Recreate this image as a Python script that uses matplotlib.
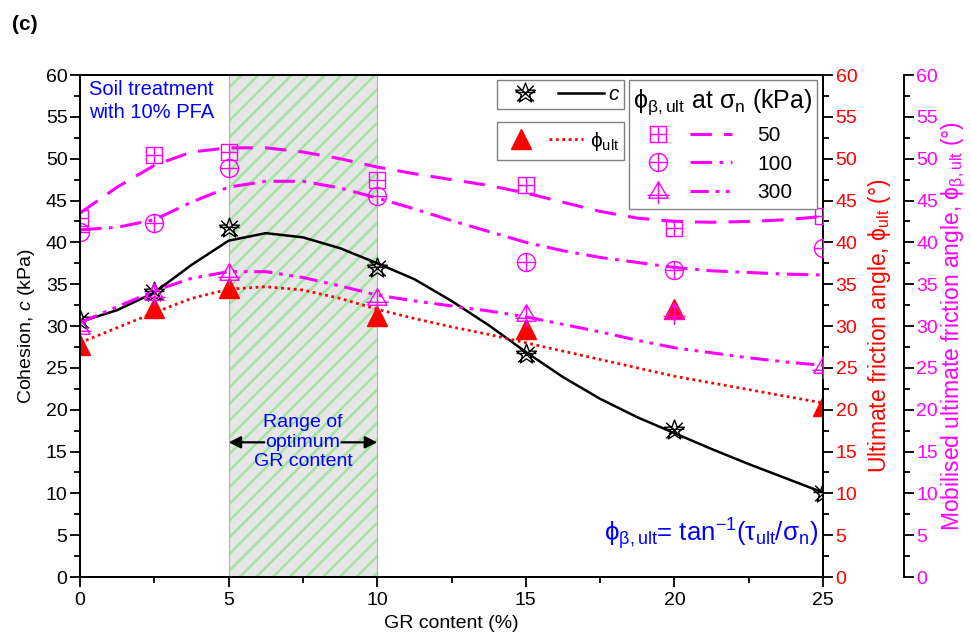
import numpy as np
import matplotlib
matplotlib.use('Agg')
import matplotlib.pyplot as plt
from matplotlib.path import Path
from matplotlib.lines import Line2D
from matplotlib.legend_handler import HandlerTuple
from matplotlib.ticker import MultipleLocator

plt.rcParams['font.family'] = 'Liberation Sans'
plt.rcParams['mathtext.fontset'] = 'custom'
plt.rcParams['mathtext.rm'] = 'Liberation Sans'
plt.rcParams['mathtext.it'] = 'Liberation Sans:italic'
plt.rcParams['mathtext.bf'] = 'Liberation Sans:bold'
plt.rcParams['mathtext.default'] = 'regular'
plt.rcParams['hatch.linewidth'] = 1.8

# measured values
gr = [0, 2.5, 5, 10, 15, 20, 25]
cohesion = [30.7, 34.1, 41.7, 36.9, 26.7, 17.6, 10.0]
phi_ult = [27.7, 32.1, 34.5, 31.2, 29.7, 32.0, 20.5]
phi_b50 = [42.9, 50.4, 50.8, 47.5, 46.8, 41.7, 43.2]
phi_b100 = [41.2, 42.3, 48.9, 45.5, 37.6, 36.7, 39.3]
phi_b300 = [29.9, 34.0, 36.3, 33.3, 31.4, 31.7, 25.2]

# trend curves, every 1.25 %
gr_fit = [0, 1.25, 2.5, 3.75, 5, 6.25, 7.5, 8.75, 10, 11.25, 12.5,
          13.75, 15, 16.25, 17.5, 18.75, 20, 21.25, 22.5, 23.75, 25]
cohesion_fit = [30.5, 31.9, 34.0, 37.3, 40.2, 41.1, 40.6, 39.3, 37.5, 35.6, 33.0,
                30.1, 26.9, 23.9, 21.3, 19.1, 17.2, 15.3, 13.5, 11.8, 10.1]
phi_ult_fit = [28.0, 29.8, 31.6, 33.3, 34.4, 34.7, 34.3, 33.3, 32.0, 30.9, 29.9,
               29.0, 28.0, 27.0, 26.0, 25.0, 24.0, 23.2, 22.4, 21.6, 20.8]
phi_b50_fit = [43.5, 46.6, 49.2, 50.8, 51.3, 51.3, 50.8, 50.0, 49.0, 48.2, 47.5,
               46.8, 45.9, 44.8, 43.7, 42.9, 42.5, 42.4, 42.5, 42.7, 43.1]
phi_b100_fit = [41.5, 41.8, 42.7, 44.8, 46.6, 47.3, 47.3, 46.5, 45.3, 44.0, 42.6,
                41.3, 40.0, 39.0, 38.2, 37.6, 37.0, 36.6, 36.4, 36.2, 36.1]
phi_b300_fit = [30.4, 32.3, 34.2, 35.7, 36.5, 36.5, 35.8, 34.8, 33.7, 33.0, 32.4,
                31.8, 31.1, 30.2, 29.3, 28.3, 27.4, 26.8, 26.2, 25.7, 25.3]

y_ticks = list(range(0, 61, 5))

MAGENTA = '#ff00ff'
RED = '#ff0000'
BLUE = '#0000ff'


# symbols with a cross inside (Origin style)
def cross_marker(outline, cross):
    parts = [outline]
    for (x0, y0), (x1, y1) in cross:
        parts.append(Path([(x0, y0), (x1, y1)], [Path.MOVETO, Path.LINETO]))
    return Path.make_compound_path(*parts)


sq = Path([(-1, -1), (1, -1), (1, 1), (-1, 1), (-1, -1)], closed=True)
sq_plus = cross_marker(sq, [((-1, 0), (1, 0)), ((0, -1), (0, 1))])
circ_plus = cross_marker(Path.unit_circle(), [((-1, 0), (1, 0)), ((0, -1), (0, 1))])
tri = Path([(0, 1), (-1, -0.7), (1, -0.7), (0, 1)], closed=True)
tri_plus = cross_marker(tri, [((-1.15, -0.4), (1.15, -0.4)), ((0, 1), (0, -1.3))])
ang = np.pi / 2 + np.arange(10) * np.pi / 5
rad = np.where(np.arange(10) % 2 == 0, 1.0, 0.42)
star_pts = list(zip(rad * np.cos(ang), rad * np.sin(ang))) + [(0, 1)]
star = Path(star_pts, closed=True)
star_x = cross_marker(star, [((-0.8, -0.75), (0.8, 0.75)), ((-0.8, 0.75), (0.8, -0.75)),
                             ((-0.95, 0.1), (0.95, 0.1))])

fig, ax = plt.subplots(figsize=(9.71, 6.44), dpi=100)
fig.subplots_adjust(left=0.0824, right=0.8476, bottom=0.104, top=0.8835)
ax2 = ax.twinx()
ax3 = ax.twinx()
ax3.spines['right'].set_position(('outward', 58))

# range of optimum GR content
ax.axvspan(5, 10, facecolor='#e6e6e6', edgecolor='#9fe59f', hatch='//', linewidth=0, zorder=0)
ax.axvspan(5, 10, fill=False, edgecolor='#b0b0b0', linewidth=0.8, zorder=0)

# cohesion
ax.plot(gr_fit, cohesion_fit, color='k', lw=1.8)
ax.plot(gr, cohesion, ls='none', marker=star_x, ms=15, mfc='none', mec='k', mew=1.0)

# ultimate friction angle
ax2.plot(gr_fit, phi_ult_fit, color=RED, lw=2, ls=(0, (1, 1.3)))
ax2.plot(gr, phi_ult, ls='none', marker='^', ms=15, color=RED)

# mobilised friction angle
ls50 = (0, (7, 4))
ls100 = (0, (7, 2.5, 1.2, 2.5))
ls300 = (0, (6, 2.2, 1.2, 2.2, 1.2, 2.2))
ax3.plot(gr_fit, phi_b50_fit, color=MAGENTA, lw=2.2, ls=ls50)
ax3.plot(gr_fit, phi_b100_fit, color=MAGENTA, lw=2.2, ls=ls100)
ax3.plot(gr_fit, phi_b300_fit, color=MAGENTA, lw=2.2, ls=ls300)
ax3.plot(gr, phi_b50, ls='none', marker=sq_plus, ms=12, mfc='none', mec=MAGENTA, mew=1.0)
ax3.plot(gr, phi_b100, ls='none', marker=circ_plus, ms=13, mfc='none', mec=MAGENTA, mew=1.0)
ax3.plot(gr, phi_b300, ls='none', marker=tri_plus, ms=18, mfc='none', mec=MAGENTA, mew=1.0)

# axes styling
ax.set_xlim(0, 25)
ax.xaxis.set_major_locator(MultipleLocator(5))
ax.xaxis.set_minor_locator(MultipleLocator(2.5))
for a in (ax, ax2, ax3):
    a.set_ylim(0, 60)
    a.set_yticks(y_ticks)
    a.yaxis.set_minor_locator(MultipleLocator(2.5))
    a.tick_params(which='major', length=7, width=1.3, labelsize=14, direction='out', pad=2)
    a.tick_params(which='minor', length=4, width=1.3, direction='out')
    for s in a.spines.values():
        s.set_linewidth(1.4)
ax.tick_params(axis='x', which='both', top=False, pad=4)
ax2.tick_params(axis='y', colors='k', labelcolor=RED)
ax3.tick_params(axis='y', colors='k', labelcolor=MAGENTA)

ax.set_xlabel('GR content (%)', fontsize=14, labelpad=4)
ax.set_ylabel(r'Cohesion, $\mathit{c}$ (kPa)', fontsize=14, labelpad=6)
ax2.set_ylabel(r'Ultimate friction angle, $\phi_{ult}$ (°)', fontsize=16.5,
               color=RED, labelpad=6)
ax3.set_ylabel(r'Mobilised ultimate friction angle, $\phi_{\beta,ult}$ (°)',
               fontsize=16.5, color=MAGENTA, labelpad=1)

# annotations
ax.text(0.012, 0.99, 'Soil treatment\nwith 10% PFA', transform=ax.transAxes, color=BLUE,
        fontsize=14.5, ha='left', va='top', linespacing=1.25)
ax.text(7.5, 16.1, 'Range of\noptimum\nGR content', color=BLUE, fontsize=14,
        ha='center', va='center', linespacing=1.2)
arrow = dict(arrowstyle='-|>', color='k', lw=1.6, mutation_scale=18, shrinkA=0, shrinkB=0)
ax.annotate('', xy=(5, 16.1), xytext=(6.2, 16.1), arrowprops=arrow)
ax.annotate('', xy=(10, 16.1), xytext=(8.8, 16.1), arrowprops=arrow)
ax3.text(0.993, 0.085, r'$\phi_{\beta,ult}$= tan$^{-1}$($\tau_{ult}$/$\sigma_{n}$)',
         transform=ax3.transAxes, color=BLUE, fontsize=18.5, ha='right', va='center')
fig.text(0.012, 0.962, '(c)', fontsize=15, fontweight='bold', ha='left', va='center')

# legends
hmap = {tuple: HandlerTuple(ndivide=None, pad=0.5)}
frame = dict(fancybox=False, framealpha=1, edgecolor='#808080', borderaxespad=0,
             fontsize=15, handler_map=hmap, mode='expand')
h_c = (Line2D([], [], ls='none', marker=star_x, ms=15, mfc='none', mec='k', mew=1.0),
       Line2D([], [], color='k', lw=1.8))
leg1 = ax3.legend([h_c], [r'$\mathit{c}$'], loc='upper left',
                  bbox_to_anchor=(0.561, 0.93, 0.171, 0.06),
                  handlelength=4.9, handletextpad=0.2, borderpad=0.25, **frame)
ax3.add_artist(leg1)
h_u = (Line2D([], [], ls='none', marker='^', ms=15, color=RED),
       Line2D([], [], color=RED, lw=2, ls=(0, (1, 1.3))))
leg2 = ax3.legend([h_u], [r'$\phi_{ult}$'], loc='upper left',
                  bbox_to_anchor=(0.561, 0.83, 0.171, 0.076),
                  handlelength=3.8, handletextpad=0.3, borderpad=0.35, **frame)
ax3.add_artist(leg2)
h50 = (Line2D([], [], ls='none', marker=sq_plus, ms=12, mfc='none', mec=MAGENTA, mew=1.0),
       Line2D([], [], color=MAGENTA, lw=2.2, ls=ls50))
h100 = (Line2D([], [], ls='none', marker=circ_plus, ms=13, mfc='none', mec=MAGENTA, mew=1.0),
        Line2D([], [], color=MAGENTA, lw=2.2, ls=ls100))
h300 = (Line2D([], [], ls='none', marker=tri_plus, ms=18, mfc='none', mec=MAGENTA, mew=1.0),
        Line2D([], [], color=MAGENTA, lw=2.2, ls=ls300))
leg3 = ax3.legend([h50, h100, h300], ['50', '100', '300'], loc='upper left',
                  bbox_to_anchor=(0.739, 0.73, 0.253, 0.26),
                  title=r'$\phi_{\beta,ult}$ at $\sigma_{n}$ (kPa)', title_fontsize=18,
                  handlelength=4.6, handletextpad=1.2, labelspacing=0.45, borderpad=0.35, **frame)

plt.savefig('out.png', dpi=100)
